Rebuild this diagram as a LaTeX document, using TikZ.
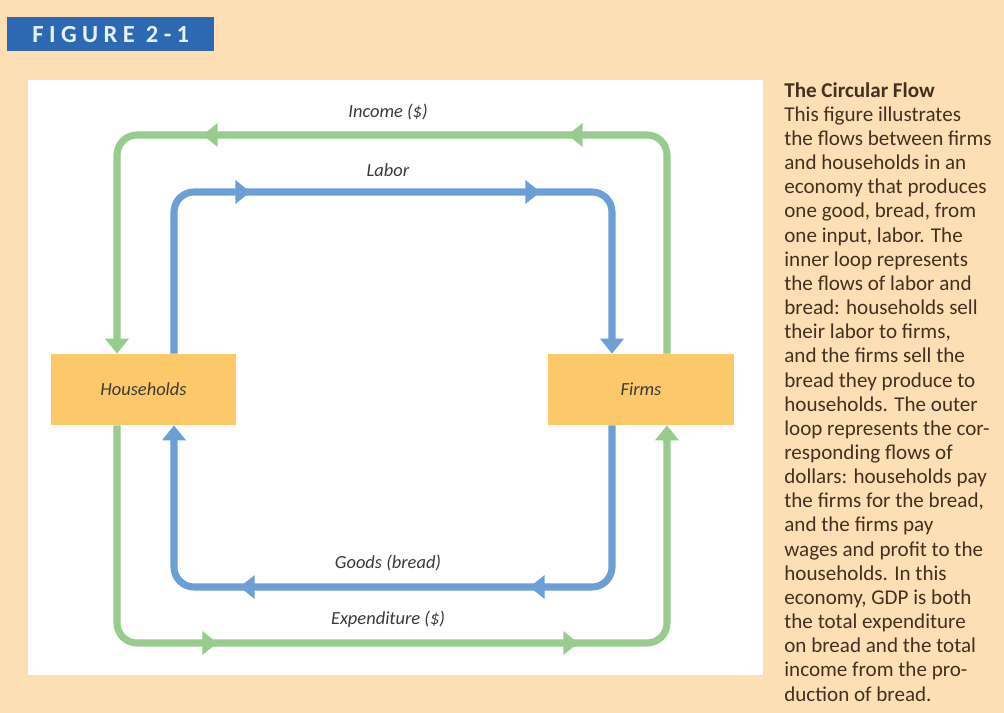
\documentclass[tikz,border=0pt]{standalone}
\usepackage{fontspec}
\setmainfont{Carlito}
\newfontfamily\tagfont[LetterSpace=22]{Carlito}
\usetikzlibrary{arrows.meta,decorations.markings}
\definecolor{page}     {HTML}{FDDFB6}
\definecolor{tagblue}  {HTML}{2D69B2}
\definecolor{tagtext}  {HTML}{E8F1FF}
\definecolor{money}    {HTML}{98CB8E}
\definecolor{goods}    {HTML}{6B9FD5}
\definecolor{sectorbg} {HTML}{FCC86A}
\definecolor{ink}      {HTML}{3A3A3A}
\definecolor{captext}  {HTML}{43301F}
\tikzset{
  tip/.tip       ={Triangle[length=0.3cm,width=0.46cm]},
  sector/.style  ={fill=sectorbg, minimum width=3.72cm, minimum height=1.42cm,
                   inner sep=0pt, text=ink, font=\fontsize{10.5}{12}\selectfont\itshape},
  flow/.style    ={line width=4pt, rounded corners=0.4cm, -tip},
  gflow/.style   ={flow, draw=money},
  bflow/.style   ={flow, draw=goods},
  midtips/.style 2 args={postaction={decorate}, decoration={markings,
                   mark=at position #1 with {\arrow{tip}},
                   mark=at position #2 with {\arrow{tip}}}},
  flowlabel/.style={text=ink, inner sep=1pt, font=\fontsize{10.5}{12}\selectfont\itshape},
}

\begin{document}
\begin{tikzpicture}[x=0.02cm,y=-0.02cm]
  \useasboundingbox (0,0) rectangle (1004,713);
  \clip (0,0) rectangle (1004,713);
  \fill[page] (0,0) rectangle (1004,713);
  \fill[white] (28,80) rectangle (763,675);

  \node[fill=tagblue, text=tagtext, anchor=north west, minimum width=4.14cm,
        minimum height=0.68cm, inner sep=0pt,
        font=\tagfont\fontsize{14}{16}\selectfont\bfseries] (figtag) at (7,17) {FIGURE 2-1};

  \node[sector] (hh) at (143.5,389.5) {Households};
  \node[sector] (firms) at (641,389.5) {Firms};

  % lanes of the two loops
  \coordinate (gL) at (117,0);
  \coordinate (bL) at (174,0);
  \coordinate (bR) at (612,0);
  \coordinate (gR) at (667,0);
  \coordinate (gtop) at (0,135);
  \coordinate (btop) at (0,192);
  \coordinate (bbot) at (0,587);
  \coordinate (gbot) at (0,643);

  \draw[gflow, midtips={6.19cm}{13.49cm}] (firms.north -| gR) -- (gR |- gtop)
    -- (gL |- gtop) -- (hh.north -| gL);
  \draw[bflow, midtips={4.59cm}{10.39cm}] (hh.north -| bL) -- (bL |- btop)
    -- (bR |- btop) -- (firms.north -| bR);
  \draw[bflow, midtips={4.71cm}{10.51cm}] (firms.south -| bR) -- (bR |- bbot)
    -- (bL |- bbot) -- (hh.south -| bL);
  \draw[gflow, midtips={6.19cm}{13.41cm}] (hh.south -| gL) -- (gL |- gbot)
    -- (gR |- gbot) -- (firms.south -| gR);

  \node[flowlabel] (income) at (388,112) {Income (\$)};
  \node[flowlabel] (labor) at (388,170) {Labor};
  \node[flowlabel] (bread) at (388,563) {Goods (bread)};
  \node[flowlabel] (spend) at (388,619) {Expenditure (\$)};

  \node[anchor=north west, inner sep=0pt, align=left, text=captext,
        font=\fontsize{12}{13.75}\selectfont] (caption) at (784,82)
    {\textbf{The Circular Flow}\\
     This figure illustrates\\
     the flows between firms\\
     and households in an\\
     economy that produces\\
     one good, bread, from\\
     one input, labor. The\\
     inner loop represents\\
     the flows of labor and\\
     bread: households sell\\
     their labor to firms,\\
     and the firms sell the\\
     bread they produce to\\
     households. The outer\\
     loop represents the cor-\\
     responding flows of\\
     dollars: households pay\\
     the firms for the bread,\\
     and the firms pay\\
     wages and profit to the\\
     households. In this\\
     economy, GDP is both\\
     the total expenditure\\
     on bread and the total\\
     income from the pro-\\
     duction of bread.};
\end{tikzpicture}
\end{document}
